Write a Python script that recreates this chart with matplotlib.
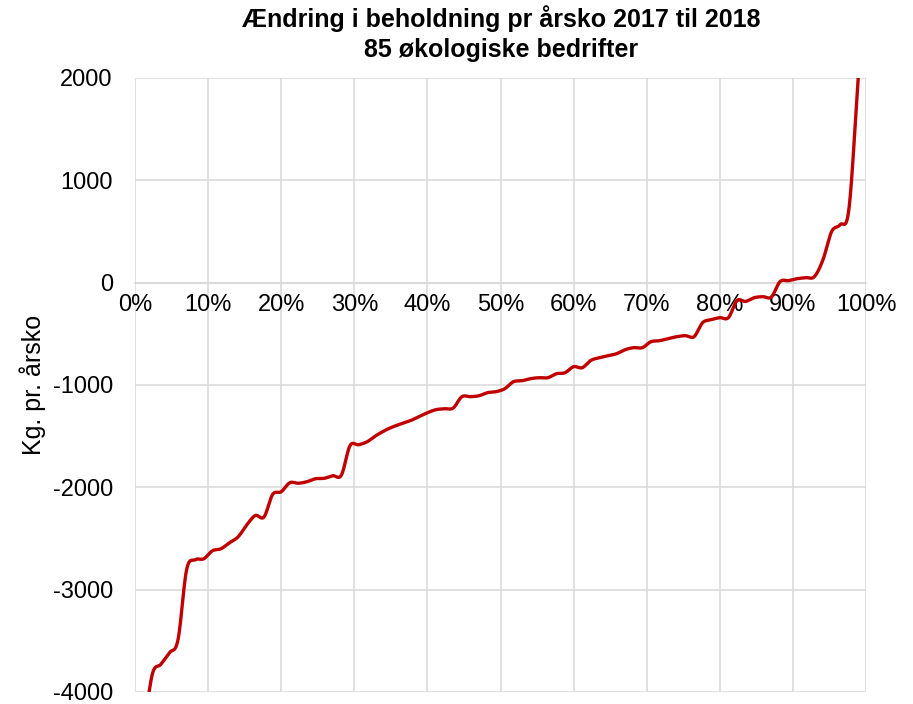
import numpy as np
import matplotlib
matplotlib.use("Agg")
import matplotlib.pyplot as plt
from matplotlib.ticker import FuncFormatter

plt.rcParams['font.family'] = ['Liberation Sans', 'DejaVu Sans']

# Sorted change per cow (kg) for 85 organic farms
values = [
    -4400, -3830, -3730, -3617, -3490, -2805, -2708, -2698, -2620, -2600,
    -2541, -2483, -2366, -2275, -2290, -2070, -2043, -1955, -1960, -1945,
    -1916, -1912, -1887, -1880, -1593, -1584, -1554, -1496, -1447, -1408,
    -1378, -1349, -1310, -1271, -1241, -1232, -1225, -1115, -1114, -1105,
    -1075, -1065, -1036, -968, -958, -938, -929, -929, -890, -880,
    -821, -831, -760, -733, -714, -694, -655, -635, -635, -577,
    -567, -547, -528, -518, -528, -391, -362, -342, -342, -175,
    -183, -147, -137, -140, 10, 20, 39, 49, 59, 225,
    499, 567, 710, 1880, 3200,
]
n_farms = len(values)
x_share = [(i + 1) / n_farms for i in range(n_farms)]

x_ticks = [0.0, 0.1, 0.2, 0.3, 0.4, 0.5, 0.6, 0.7, 0.8, 0.9, 1.0]
y_ticks = [-4000, -3000, -2000, -1000, 0, 1000, 2000]
title = "Ændring i beholdning pr årsko 2017 til 2018\n85 økologiske bedrifter"
y_label = "Kg. pr. årsko"


def smooth(xs, ys, steps=20):
    """Excel-style smoothed line (Bezier with Catmull-Rom control points)."""
    xs = np.asarray(xs, float)
    ys = np.asarray(ys, float)
    px = np.concatenate([[xs[0]], xs, [xs[-1]]])
    py = np.concatenate([[ys[0]], ys, [ys[-1]]])
    ox, oy = [], []
    t = np.linspace(0, 1, steps, endpoint=False)
    for k in range(1, len(px) - 2):
        p0 = np.array([px[k], py[k]])
        p3 = np.array([px[k + 1], py[k + 1]])
        c1 = p0 + (np.array([px[k + 1], py[k + 1]]) - np.array([px[k - 1], py[k - 1]])) / 6
        c2 = p3 - (np.array([px[k + 2], py[k + 2]]) - np.array([px[k], py[k]])) / 6
        b = ((1 - t) ** 3)[:, None] * p0 + (3 * (1 - t) ** 2 * t)[:, None] * c1 \
            + (3 * (1 - t) * t ** 2)[:, None] * c2 + (t ** 3)[:, None] * p3
        ox.extend(b[:, 0])
        oy.extend(b[:, 1])
    ox.append(xs[-1])
    oy.append(ys[-1])
    return np.array(ox), np.array(oy)


fig = plt.figure(figsize=(9.13, 7.04), dpi=100)
ax = fig.add_axes([135 / 913, 1 - 692 / 704, (866 - 135) / 913, (692 - 78) / 704])

sx, sy = smooth(x_share, values)
ax.plot(sx, sy, color='#C00000', lw=2.4, solid_capstyle='round', zorder=3)

ax.set_xlim(0, 1)
ax.set_ylim(-4000, 2000)
ax.set_xticks(x_ticks)
ax.set_yticks(y_ticks)
ax.xaxis.set_major_formatter(FuncFormatter(lambda v, p: f"{round(v * 100)}%"))
ax.yaxis.set_major_formatter(FuncFormatter(lambda v, p: f"{int(v)}"))
ax.grid(True, color='#D9D9D9', lw=1.1, zorder=0)
ax.set_axisbelow(True)

for s in ['top', 'right', 'left']:
    ax.spines[s].set_visible(False)
ax.spines['bottom'].set_position(('data', 0))
ax.spines['bottom'].set_color('#D9D9D9')
ax.spines['bottom'].set_linewidth(1.1)

ax.tick_params(axis='both', length=0, labelsize=17, colors='black')
ax.tick_params(axis='x', pad=8)
ax.tick_params(axis='y', pad=16)

ax.set_ylabel(y_label, fontsize=18, labelpad=5)

fig.text(501 / 913, 1 - 5 / 704, title, ha='center', va='top',
         fontsize=18, fontweight='bold', linespacing=1.35)

fig.savefig('out.png', dpi=100)
